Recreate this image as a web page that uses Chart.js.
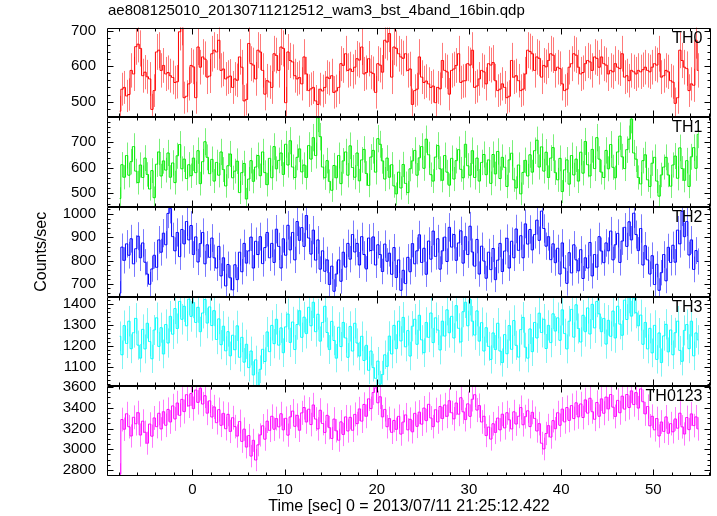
<!DOCTYPE html>
<html>
<head>
<meta charset="utf-8">
<script src="https://cdn.jsdelivr.net/npm/chart.js@4.4.1/dist/chart.umd.min.js"></script>
<style>
  html, body { margin: 0; padding: 0; background: #fff; }
  #wrap { position: relative; width: 717px; height: 516px; }
</style>
</head>
<body>
<div id="wrap"><canvas id="lc" width="717" height="516"></canvas></div>
<script>
// 0.25 s bins (16 x 1/64 s), first bin starts at -8 s
const BIN_SEC = 0.25;
const T_START = -8;

const th0 = [
  473,535,540,516,520,588,578,655,662,650, 573,583,570,564,478,531,640,645,588,602,
  578,582,573,568,554,556,697,712,511,515, 550,602,598,511,654,597,626,620,569,572,
  635,645,640,673,588,592,564,569,572,540, 564,560,626,597,502,506,664,607,603,564,
  645,640,588,521,559,555,540,635,630,588, 654,650,497,640,616,612,573,564,568,
  550,626,578,531,536,540,502,492,535,530, 540,569,565,573,526,530,540,607,602,635,
  588,592,585,597,621,617,654,578,582,621, 583,579,526,607,603,583,673,668,692,569,
  654,650,635,626,622,635,588,592,492,531, 535,626,569,554,558,550,540,544,497,540,
  536,616,588,584,521,588,592,602,635,554, 558,559,607,603,645,540,544,564,588,584,
  550,607,603,610,559,531,535,
  550,540,511,515,616,569,573,559,531,535, 578,645,641,635,588,626,622,569,602,598,
  616,635,631,588,597,593,550,531,535,597, 607,635,631,597,578,582,607,616,612,588,
  626,622,597,626,607,603,578,588,584,607, 597,593,635,569,573,559,588,584,578,588,
  584,590,597,588,584,597,607,603,635,569, 573,588,584,559,555,495,511,645,616,597,
  593,531,550,546,673,588
];
const th1 = [
  480,612,563,648,571,624,683,587,542,611, 562,638,574,517,589,483,614,662,568,627,
  591,658,563,619,542,647,691,596,634,558, 612,569,638,581,667,538,624,702,641,577,
  633,548,621,571,662,593,529,608,654,561, 587,626,503,581,617,478,556,628,547,603,
  648,569,662,581,534,637,561,683,596,629, 658,574,692,611,706,603,562,641,674,584,
  611,562,687,634,718,648,796,722,603,561, 628,547,512,609,561,648,538,627,662,571,
  686,601,563,658,549,631,672,578,531,642, 668,583,714,692,627,556,638,563,612,529,
  498,583,521,613,539,503,596,627,668,571, 639,683,598,712,651,573,548,642,687,596,
  551,648,583,532,637,556,628,671,594,561, 692,608,571,667,562,638,548,621,652,573,
  631,539,652,576,664,558,641,602,527,631, 657,553,521,611,498,582,629,568,651,583,
  667,708,603,682,587,661,562,638,679,581, 553,637,507,592,631,536,648,572,634,548,
  661,579,703,612,568,672,597,718,634,583, 562,668,596,691,602,561,662,724,643,597,
  671,712,791,658,634,562,537,628,651,553, 527,618,641,548,489,572,603,641,572,528,
  611,646,559,678,597,551,628,527,643,679,598,731
];
const th2 = [
  660,858,801,872,823,894,786,851,905,812, 876,793,742,698,764,823,771,889,836,918,
  868,1003,1024,903,842,921,817,934,872,968, 889,951,826,902,794,873,921,786,868,814,
  897,812,768,861,734,812,691,783,726,674, 782,718,836,752,874,789,842,901,768,883,
  826,903,787,856,921,812,874,792,935,861, 768,894,823,952,846,921,803,968,887,942,
  861,994,897,828,931,802,889,763,842,754, 803,697,776,668,742,803,711,836,772,874,
  806,912,837,874,781,903,826,764,897,843, 902,781,868,826,753,871,797,832,741,856,
  727,803,672,758,701,814,752,873,786,842, 911,792,853,741,884,806,927,818,894,763,
  842,901,796,943,858,912,801,876,928,789, 903,826,948,837,776,891,742,862,798,724,
  836,761,852,718,802,874,753,841,896,768, 883,812,936,844,907,812,958,871,934,846,
  912,974,887,1013,938,862,903,804,872,791, 853,742,876,768,702,834,747,868,803,756,
  847,723,812,768,878,734,826,772,903,841, 791,876,842,927,803,868,917,792,884,943,
  861,967,889,1004,912,843,938,781,864,803, 742,821,697,784,672,748,826,713,857,792,
  866,793,931,872,1012,903,968,824,889,762,843,796
];
const th3 = [
  1246,1158,1297,1212,1318,1187,1263,1331,1204,1142, 1279,1186,1308,1221,1139,1276,1334,1198,1287,1162,
  1302,1214,1341,1256,1378,1283,1412,1327,1389,1296, 1423,1341,1407,1312,1384,1268,1357,1421,1309,1386,
  1297,1368,1231,1329,1206,1294,1177,1268,1153,1251, 1182,1296,1146,1241,1123,1208,1097,1176,1062,1134,
  1012,1089,1184,1126,1267,1173,1298,1211,1327,1204, 1286,1168,1291,1352,1217,1314,1183,1302,1368,1241,
  1337,1259,1384,1296,1408,1268,1351,1223,1312,1389, 1264,1183,1317,1226,1142,1289,1197,1312,1238,1146,
  1293,1176,1308,1214,1152,1246,1131,1203,1084,1176, 1097,1046,1128,1018,1064,1158,1103,1247,1162,1298,
  1187,1318,1224,1336,1196,1273,1152,1294,1327,1208, 1346,1229,1168,1312,1241,1357,1216,1334,1276,1181,
  1318,1247,1372,1263,1341,1238,1392,1284,1219,1363, 1408,1296,1421,1318,1252,1367,1223,1311,1176,1287,
  1198,1136,1262,1183,1308,1176,1121,1254,1163,1297, 1184,1321,1203,1147,1278,1336,1194,1142,1281,1173,
  1312,1238,1356,1264,1327,1188,1298,1216,1353,1271, 1334,1227,1372,1259,1186,1318,1374,1242,1396,1283,
  1219,1346,1268,1381,1257,1398,1286,1412,1353,1268, 1331,1209,1322,1246,1366,1238,1389,1304,1251,1418,
  1326,1431,1342,1427,1358,1296,1347,1208,1312,1186, 1284,1167,1298,1136,1262,1121,1248,1303,1172,1276,
  1158,1263,1318,1179,1127,1274,1302,1187,1318,1153,1262,1229
];
const th0123 = [
  2760,3286,3193,3342,3217,3128,3308,3246,3352,3137, 3271,3164,3058,3243,3126,3302,3218,3347,3196,3362,
  3231,3384,3263,3418,3292,3446,3327,3481,3363,3526, 3418,3537,3392,3571,3452,3589,3436,3516,3348,3467,
  3311,3408,3256,3382,3231,3346,3198,3337,3172,3304, 3218,3127,3268,3076,3194,3021,3132,2934,3086,2896,
  3042,3138,3226,3097,3271,3182,3318,3193,3296,3216, 3342,3187,3298,3136,3312,3368,3221,3327,3183,3351,
  3402,3263,3386,3238,3427,3291,3196,3376,3248,3162, 3327,3208,3104,3291,3178,3087,3264,3142,3312,3176,
  3308,3183,3336,3247,3389,3271,3432,3318,3486,3392, 3547,3592,3448,3506,3312,3384,3217,3296,3163,3278,
  3192,3317,3146,3262,3331,3187,3289,3168,3346,3221, 3358,3242,3397,3276,3433,3301,3218,3381,3263,3412,
  3296,3427,3318,3468,3352,3293,3446,3338,3497,3361, 3286,3438,3317,3482,3526,3378,3421,3263,3318,3132,
  3214,3098,3246,3162,3301,3187,3338,3206,3352,3284, 3196,3361,3243,3318,3402,3236,3314,3371,3218,3356,
  3297,3176,3247,3058,3003,3152,3228,3117,3276,3198, 3352,3231,3387,3264,3402,3278,3421,3296,3448,3312,
  3437,3306,3476,3348,3492,3362,3289,3451,3318,3486, 3347,3503,3389,3528,3406,3316,3471,3352,3512,3387,
  3528,3402,3563,3431,3546,3397,3582,3458,3341,3412, 3226,3318,3187,3296,3128,3263,3172,3312,3154,3247,
  3168,3292,3203,3348,3216,3147,3306,3189,3341,3228,3312,3196
];

const panelNames = ['TH0', 'TH1', 'TH2', 'TH3', 'TH0123'];
const panelSeries = [th0, th1, th2, th3, th0123];
const panelColors = ['#ff0000', '#00ee00', '#0000ff', '#00ffff', '#ff00ff'];
const errColors = ['#ff7a7a', '#7af07a', '#7a7aff', '#80f4f4', '#ff7aff'];
const yMins = [456, 447, 645, 1008, 2742];
const yMaxs = [709, 798, 1031, 1435, 3607];
const yMajor = [100, 100, 100, 100, 200];
const yMinor = [20, 20, 20, 20, 50];
const xMin = -9.25, xMax = 56.25;

const FONT = '"Liberation Sans", Arial, Helvetica, sans-serif';

// poisson error on a rate measured in BIN_SEC bins
const datasets = panelSeries.map((vals, k) => ({
  label: panelNames[k],
  data: vals.map((v, i) => ({ x: T_START + BIN_SEC * (i + 0.5), y: v, err: Math.sqrt(v * BIN_SEC) / BIN_SEC })),
  yAxisID: 'y' + k,
  borderColor: panelColors[k],
  borderWidth: 1,
  pointRadius: 0,
  stepped: 'middle',
  fill: false
}));

const scales = {
  x: {
    type: 'linear', position: 'bottom', min: xMin, max: xMax,
    grid: { display: false, drawTicks: false }, border: { display: false },
    ticks: { stepSize: 10, includeBounds: false, padding: 5, maxRotation: 0, autoSkip: false,
             color: '#000', font: { family: FONT, size: 15 }, callback: v => String(v) },
    title: { display: true, text: 'Time [sec] 0 = 2013/07/11 21:25:12.422', color: '#000',
             font: { family: FONT, size: 16 }, padding: { top: 0, bottom: 0 } },
    afterFit: s => { s.height = 40; }
  }
};
panelNames.forEach((n, k) => {
  scales['y' + k] = {
    type: 'linear', position: 'left', stack: 'lc', stackWeight: 1, weight: 10 - k,
    min: yMins[k], max: yMaxs[k],
    grid: { display: false, drawTicks: false }, border: { display: false },
    ticks: { stepSize: yMajor[k], includeBounds: false, autoSkip: false, padding: 11, color: '#000',
             font: { family: FONT, size: 15 }, callback: v => String(v) },
    afterFit: s => { s.width = 107; }
  };
});

const qdpPlugin = {
  id: 'qdp',
  beforeDatasetDraw(chart, args) {
    const ctx = chart.ctx, area = chart.chartArea;
    const xs = chart.scales.x, ys = chart.scales['y' + args.index];
    ctx.save();
    ctx.beginPath();
    ctx.rect(area.left, ys.top, area.right - area.left, ys.bottom - ys.top);
    ctx.clip();
    // error bars under the step line
    ctx.strokeStyle = errColors[args.index];
    ctx.lineWidth = 1;
    ctx.beginPath();
    chart.data.datasets[args.index].data.forEach(p => {
      const px = Math.round(xs.getPixelForValue(p.x)) + 0.5;
      ctx.moveTo(px, ys.getPixelForValue(p.y - p.err));
      ctx.lineTo(px, ys.getPixelForValue(p.y + p.err));
    });
    ctx.stroke();
  },
  afterDatasetDraw(chart) {
    chart.ctx.restore();
  },
  afterDraw(chart) {
    const ctx = chart.ctx, area = chart.chartArea, xs = chart.scales.x;
    ctx.save();
    ctx.strokeStyle = '#000';
    ctx.lineWidth = 1;
    const L = Math.round(area.left) + 0.5, R = Math.round(area.right) - 0.5;
    panelNames.forEach((n, k) => {
      const ys = chart.scales['y' + k];
      const T = Math.round(ys.top) + 0.5, B = Math.round(ys.bottom) - 0.5;
      ctx.beginPath();
      ctx.rect(L, T, R - L, B - T);
      // x ticks, top and bottom, inward
      for (let t = Math.ceil(xMin / 2) * 2; t <= xMax; t += 2) {
        const px = Math.round(xs.getPixelForValue(t)) + 0.5;
        const len = t % 10 === 0 ? 6 : 3;
        ctx.moveTo(px, T); ctx.lineTo(px, T + len);
        ctx.moveTo(px, B); ctx.lineTo(px, B - len);
      }
      // y ticks, left and right, inward
      for (let v = Math.ceil(yMins[k] / yMinor[k]) * yMinor[k]; v <= yMaxs[k]; v += yMinor[k]) {
        const py = Math.round(ys.getPixelForValue(v)) + 0.5;
        const len = v % yMajor[k] === 0 ? 6 : 3;
        ctx.moveTo(L, py); ctx.lineTo(L + len, py);
        ctx.moveTo(R, py); ctx.lineTo(R - len, py);
      }
      ctx.stroke();
      // band label
      ctx.fillStyle = '#000';
      ctx.font = '16px ' + FONT;
      ctx.textAlign = 'right';
      ctx.textBaseline = 'alphabetic';
      ctx.fillText(n, R - 8, ys.top + 15);
    });
    ctx.fillStyle = '#000';
    ctx.font = '15px ' + FONT;
    ctx.textAlign = 'left';
    ctx.textBaseline = 'middle';
    ctx.fillText('ae808125010_20130711212512_wam3_bst_4band_16bin.qdp', 108, 11);
    ctx.translate(42, (area.top + area.bottom) / 2);
    ctx.rotate(-Math.PI / 2);
    ctx.textAlign = 'center';
    ctx.font = '16px ' + FONT;
    ctx.fillText('Counts/sec', 0, 0);
    ctx.restore();
  }
};

new Chart(document.getElementById('lc'), {
  type: 'line',
  data: { datasets },
  options: {
    responsive: false,
    animation: false,
    events: [],
    layout: { padding: { left: 0, right: 6, top: 27.5, bottom: 0 } },
    plugins: { legend: { display: false }, tooltip: { enabled: false }, title: { display: false } },
    scales
  },
  plugins: [qdpPlugin]
});
</script>
</body>
</html>
